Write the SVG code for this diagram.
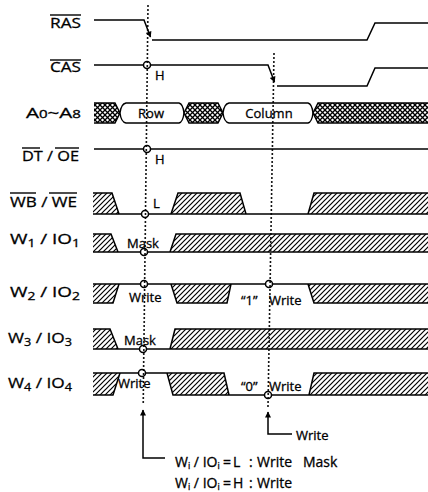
<svg xmlns="http://www.w3.org/2000/svg" width="428" height="492" viewBox="0 0 428 492">
<style>
.sig{fill:none;stroke:#000;stroke-width:1.5}
.hf{fill:url(#hatch);stroke:none}
.xf{fill:url(#xhatch);stroke:#000;stroke-width:1.4}
.bub{fill:#fff;stroke:#000;stroke-width:1.4}
.pt{fill:#fff;stroke:#000;stroke-width:1.5}
.ov{stroke:#000;stroke-width:1.4}
.dot{fill:none;stroke:#000;stroke-width:2;stroke-linecap:round;stroke-dasharray:0 4}
.ar{fill:none;stroke:#000;stroke-width:1.5}
text{font-family:"Open Sans","Noto Sans","Liberation Sans",sans-serif;fill:#000;stroke:#000;stroke-width:0.3}
.lbl{font-size:15px}
.sm{font-size:13px}
.lg{font-size:14px}
</style>
<defs>
<pattern id="hatch" patternUnits="userSpaceOnUse" width="5" height="5">
<path d="M-1,1 L1,-1 M0,5 L5,0 M4,6 L6,4" stroke="#000" stroke-width="1.2"/>
</pattern>
<pattern id="xhatch" patternUnits="userSpaceOnUse" width="5" height="5">
<rect width="5" height="5" fill="#fff"/>
<path d="M-1,-1 L6,6 M-1,6 L6,-1" stroke="#000" stroke-width="1.3"/>
</pattern>
<marker id="ah" viewBox="0 0 10 10" refX="9" refY="5" markerWidth="10" markerHeight="6" orient="auto" markerUnits="userSpaceOnUse">
<path d="M0,0 L10,5 L0,10 Z" fill="#000"/>
</marker>
</defs>

<g id="RAS">
<text class="lbl" x="50" y="28" textLength="31" lengthAdjust="spacingAndGlyphs">RAS</text>
<line class="ov" x1="50" y1="15" x2="81" y2="15"/>
<path class="sig" d="M94,20 H144 L150.5,37" marker-end="url(#ah)"/>
<path class="sig" d="M152,40 H367 L375,23 H428"/>
</g>

<g id="CAS">
<text class="lbl" x="50" y="72" textLength="31" lengthAdjust="spacingAndGlyphs">CAS</text>
<line class="ov" x1="50" y1="60" x2="81" y2="60"/>
<path class="sig" d="M94,65 H268 L274.5,82" marker-end="url(#ah)"/>
<path class="sig" d="M277,86 H367 L375,68 H428"/>
<circle class="pt" cx="147" cy="65" r="3.5"/>
<text class="sm" x="155" y="80">H</text>
</g>

<g id="A0A8">
<text class="lbl" x="26" y="118" textLength="55" lengthAdjust="spacingAndGlyphs">A<tspan font-size="11">0</tspan>~A<tspan font-size="11">8</tspan></text>
<path class="xf" d="M94,103 H115 L120,113 L115,123 H94"/>
<path class="bub" d="M120,113 Q121,104 126,103 H179 Q183,104 184,113 Q183,122 179,123 H126 Q121,122 120,113 Z"/>
<text class="sm" x="151" y="118" text-anchor="middle">Row</text>
<path class="xf" d="M184,113 L189,103 H218 L223,113 L218,123 H189 Z"/>
<path class="bub" d="M223,113 Q224,104 229,103 H308 Q312,104 313,113 Q312,122 308,123 H229 Q224,122 223,113 Z"/>
<text class="sm" x="269" y="118" text-anchor="middle">Column</text>
<path class="xf" d="M428,103 H318 L313,113 L318,123 H428"/>
</g>

<g id="DTOE">
<text class="lbl" x="22" y="161" textLength="57" lengthAdjust="spacingAndGlyphs">DT / OE</text>
<line class="ov" x1="22" y1="148" x2="40" y2="148"/>
<line class="ov" x1="55" y1="148" x2="79" y2="148"/>
<path class="sig" d="M94,149 H428"/>
<circle class="pt" cx="147" cy="149" r="3.5"/>
<text class="sm" x="155" y="164">H</text>
</g>

<g id="WBWE">
<text class="lbl" x="10" y="207" textLength="67" lengthAdjust="spacingAndGlyphs">WB / WE</text>
<line class="ov" x1="10" y1="193" x2="36" y2="193"/>
<line class="ov" x1="49" y1="193" x2="77" y2="193"/>
<polygon class="hf" points="93,193 112,193 119,214 93,214"/>
<polygon class="hf" points="171,214 178,193 240,193 246,214"/>
<polygon class="hf" points="308,214 314,193 428,193 428,214"/>
<path class="sig" d="M93,193 H112 L119,214 M171,214 L178,193 H240 L246,214 M308,214 L314,193 H428 M93,214 H428"/>
<circle class="pt" cx="145" cy="214" r="3.5"/>
<text class="sm" x="153" y="208">L</text>
</g>

<g id="W1IO1">
<text class="lbl" x="10" y="244" textLength="70" lengthAdjust="spacingAndGlyphs">W<tspan font-size="11" dy="3">1</tspan><tspan dy="-3"> / IO</tspan><tspan font-size="11" dy="3">1</tspan></text>
<polygon class="hf" points="93,234 111,234 118,252 93,252"/>
<polygon class="hf" points="170,252 176,234 428,234 428,252"/>
<path class="sig" d="M93,234 H111 L118,252 M170,252 L176,234 H428 M93,252 H428"/>
<circle class="pt" cx="144" cy="252" r="3.5"/>
<text class="sm" x="127" y="248">Mask</text>
</g>

<g id="W2IO2">
<text class="lbl" x="10" y="297" textLength="70" lengthAdjust="spacingAndGlyphs">W<tspan font-size="11" dy="3">2</tspan><tspan dy="-3"> / IO</tspan><tspan font-size="11" dy="3">2</tspan></text>
<polygon class="hf" points="93,284 119,284 113,303 93,303"/>
<polygon class="hf" points="171,284 231,284 227,303 177,303"/>
<polygon class="hf" points="308,284 428,284 428,303 314,303"/>
<path class="sig" d="M93,284 H428 M93,303 H113 L119,284 M171,284 L177,303 H227 L231,284 M308,284 L314,303 H428"/>
<circle class="pt" cx="144" cy="284" r="3.5"/>
<circle class="pt" cx="269" cy="284" r="3.5"/>
<text class="sm" x="129" y="302">Write</text>
<text class="sm" x="241" y="305">“1” <tspan x="269">Write</tspan></text>
</g>

<g id="W3IO3">
<text class="lbl" x="8" y="343" textLength="64" lengthAdjust="spacingAndGlyphs">W<tspan font-size="11" dy="3">3</tspan><tspan dy="-3"> / IO</tspan><tspan font-size="11" dy="3">3</tspan></text>
<polygon class="hf" points="93,329 110,329 118,349 93,349"/>
<polygon class="hf" points="170,349 175,329 428,329 428,349"/>
<path class="sig" d="M93,329 H110 L118,349 M170,349 L175,329 H428 M93,349 H428"/>
<circle class="pt" cx="143" cy="349" r="3.5"/>
<text class="sm" x="124" y="345">Mask</text>
</g>

<g id="W4IO4">
<text class="lbl" x="8" y="388" textLength="64" lengthAdjust="spacingAndGlyphs">W<tspan font-size="11" dy="3">4</tspan><tspan dy="-3"> / IO</tspan><tspan font-size="11" dy="3">4</tspan></text>
<polygon class="hf" points="93,373 120,373 113,395 93,395"/>
<polygon class="hf" points="167,373 224,373 229,395 173,395"/>
<polygon class="hf" points="309,395 314,373 428,373 428,395"/>
<path class="sig" d="M93,373 H224 L229,395 H309 L314,373 H428 M93,395 H113 L120,373 M167,373 L173,395 H229 M309,395 H428"/>
<circle class="pt" cx="142" cy="373" r="3.5"/>
<circle class="pt" cx="268" cy="395" r="3.5"/>
<text class="sm" x="118" y="388">Write</text>
<text class="sm" x="241" y="391">“0” <tspan x="269">Write</tspan></text>
</g>

<g id="connectors">
<line class="dot" x1="148" y1="6" x2="143.2" y2="404"/>
<line class="dot" x1="274" y1="54" x2="268" y2="406"/>
<path class="ar" d="M165,458 H143 V410" marker-end="url(#ah)"/>
<path class="ar" d="M292,434 H268 V412" marker-end="url(#ah)"/>
</g>

<g id="legend">
<text class="sm" x="296" y="440">Write</text>
<text class="lg" x="175" y="467">W<tspan font-size="9" dy="2">i</tspan><tspan dy="-2"> / IO</tspan><tspan font-size="9" dy="2">i</tspan><tspan dy="-2" x="223">=</tspan><tspan x="233">L</tspan><tspan x="249">:</tspan><tspan x="257">Write</tspan><tspan x="303">Mask</tspan></text>
<text class="lg" x="175" y="488">W<tspan font-size="9" dy="2">i</tspan><tspan dy="-2"> / IO</tspan><tspan font-size="9" dy="2">i</tspan><tspan dy="-2" x="223">=</tspan><tspan x="233">H</tspan><tspan x="249">:</tspan><tspan x="257">Write</tspan></text>
</g>
</svg>
